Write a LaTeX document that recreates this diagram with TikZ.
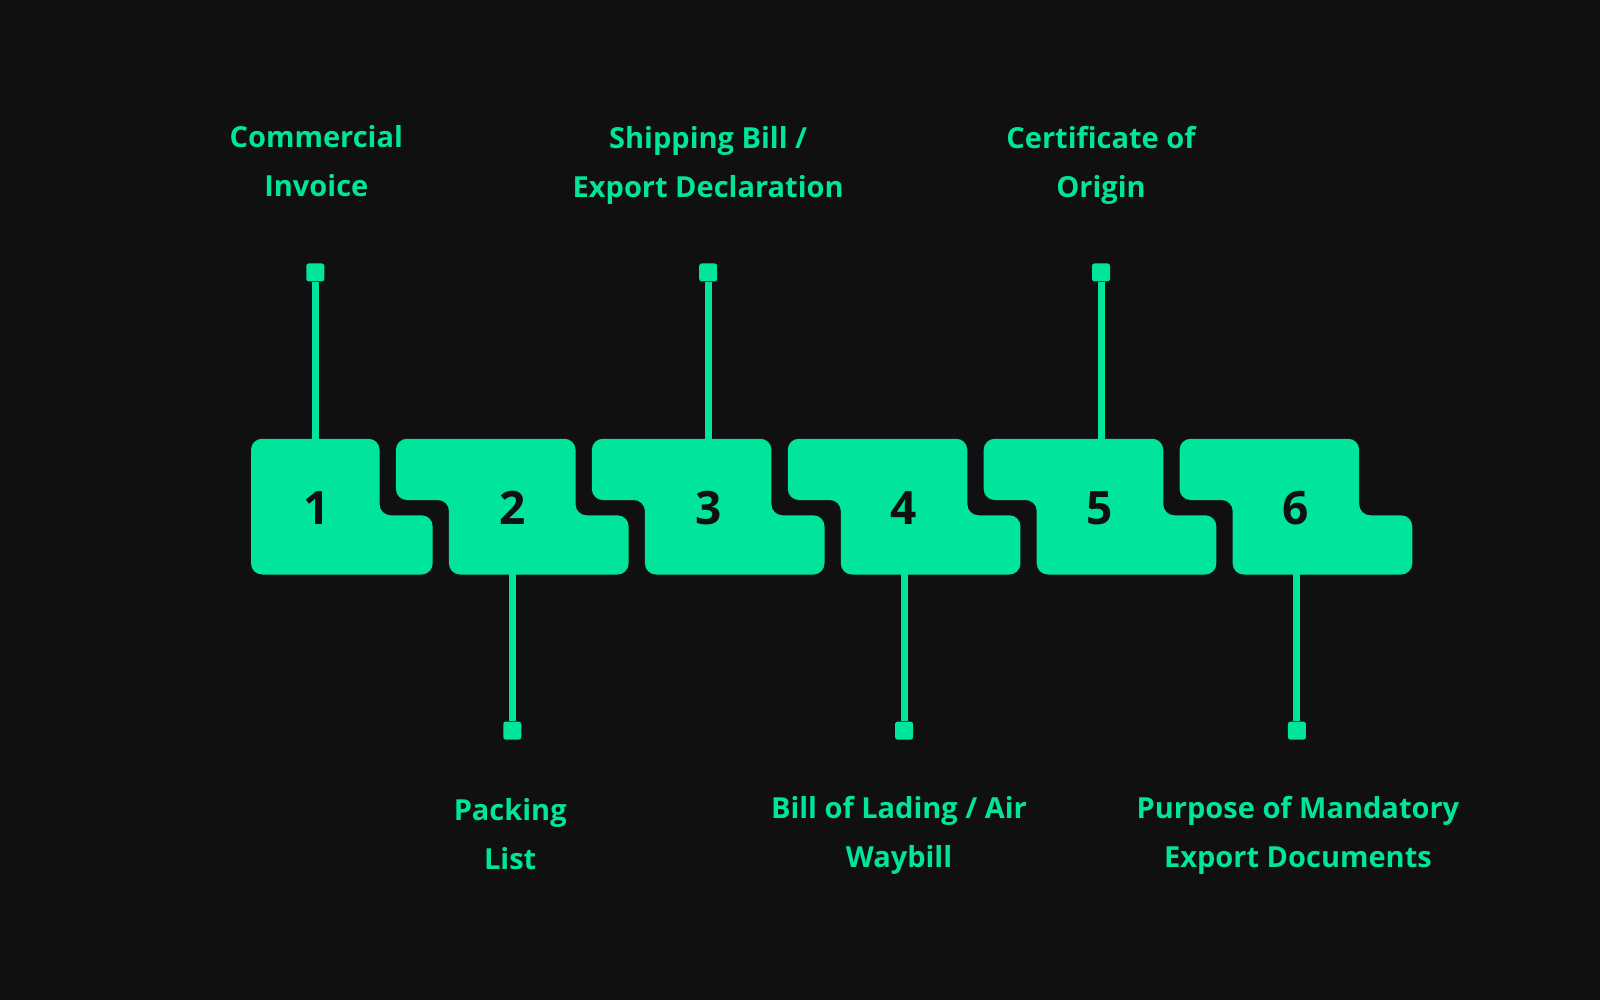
\documentclass[tikz,border=0pt]{standalone}
\usepackage{fontspec}
\setmainfont{Open Sans}
\definecolor{bg}{HTML}{101010}
\definecolor{gr}{HTML}{00E59B}
\begin{document}
\begin{tikzpicture}[x=1.0204pt,y=-1.0204pt,
  piece/.style={fill=gr,rounded corners=11pt},
  num/.style={font=\fontsize{46}{50}\selectfont\bfseries,text=bg},
  sq/.style={fill=gr,minimum size=18pt,inner sep=0pt,rounded corners=2.5pt},
  stem/.style={draw=gr,line width=7pt},
  lab/.style={font=\fontsize{29}{49}\selectfont\bfseries,text=gr,align=center}]
\fill[bg] (0,0) rectangle (1568,980);
\useasboundingbox (0,0) rectangle (1568,980);
\fill[piece] (246,430) -- (372,430) -- (372,505) -- (424,505) -- (424,563) -- (246,563) -- cycle;
\foreach \k in {1,...,5}{
  \pgfmathsetmacro{\La}{196+192*\k}
  \pgfmathsetmacro{\Ra}{372+192*\k}
  \pgfmathsetmacro{\Rb}{424+192*\k}
  \pgfmathsetmacro{\Lb}{248+192*\k}
  \fill[piece] (\La,430) -- (\Ra,430) -- (\Ra,505) -- (\Rb,505) -- (\Rb,563) -- (\Lb,563) -- (\Lb,490) -- (\La,490) -- cycle;
}
\foreach \k in {1,...,6}{
  \node[num] (n\k) at ({310+192*(\k-1)},498) {\k};
}
\foreach \k/\x in {1/309,3/694,5/1079}{
  \coordinate (c\k) at (\x,432);
  \node[sq] (s\k) at (\x,267) {};
  \draw[stem] (s\k) -- (c\k);
}
\foreach \k/\x in {2/502,4/886,6/1271}{
  \coordinate (c\k) at (\x,561);
  \node[sq] (s\k) at (\x,716) {};
  \draw[stem] (c\k) -- (s\k);
}
\node[lab] (l1) at (310,158) {Commercial\\Invoice};
\node[lab] (l3) at (694,162) {Shipping Bill /\\Export Declaration};
\node[lab] (l5) at (1079,162) {Certificate of\\Origin};
\node[lab] (l2) at (500,817) {Packing\\List};
\node[lab] (l4) at (881,819) {Bill of Lading / Air\\Waybill};
\node[lab] (l6) at (1272,819) {Purpose of Mandatory\\Export Documents};
\end{tikzpicture}
\end{document}
